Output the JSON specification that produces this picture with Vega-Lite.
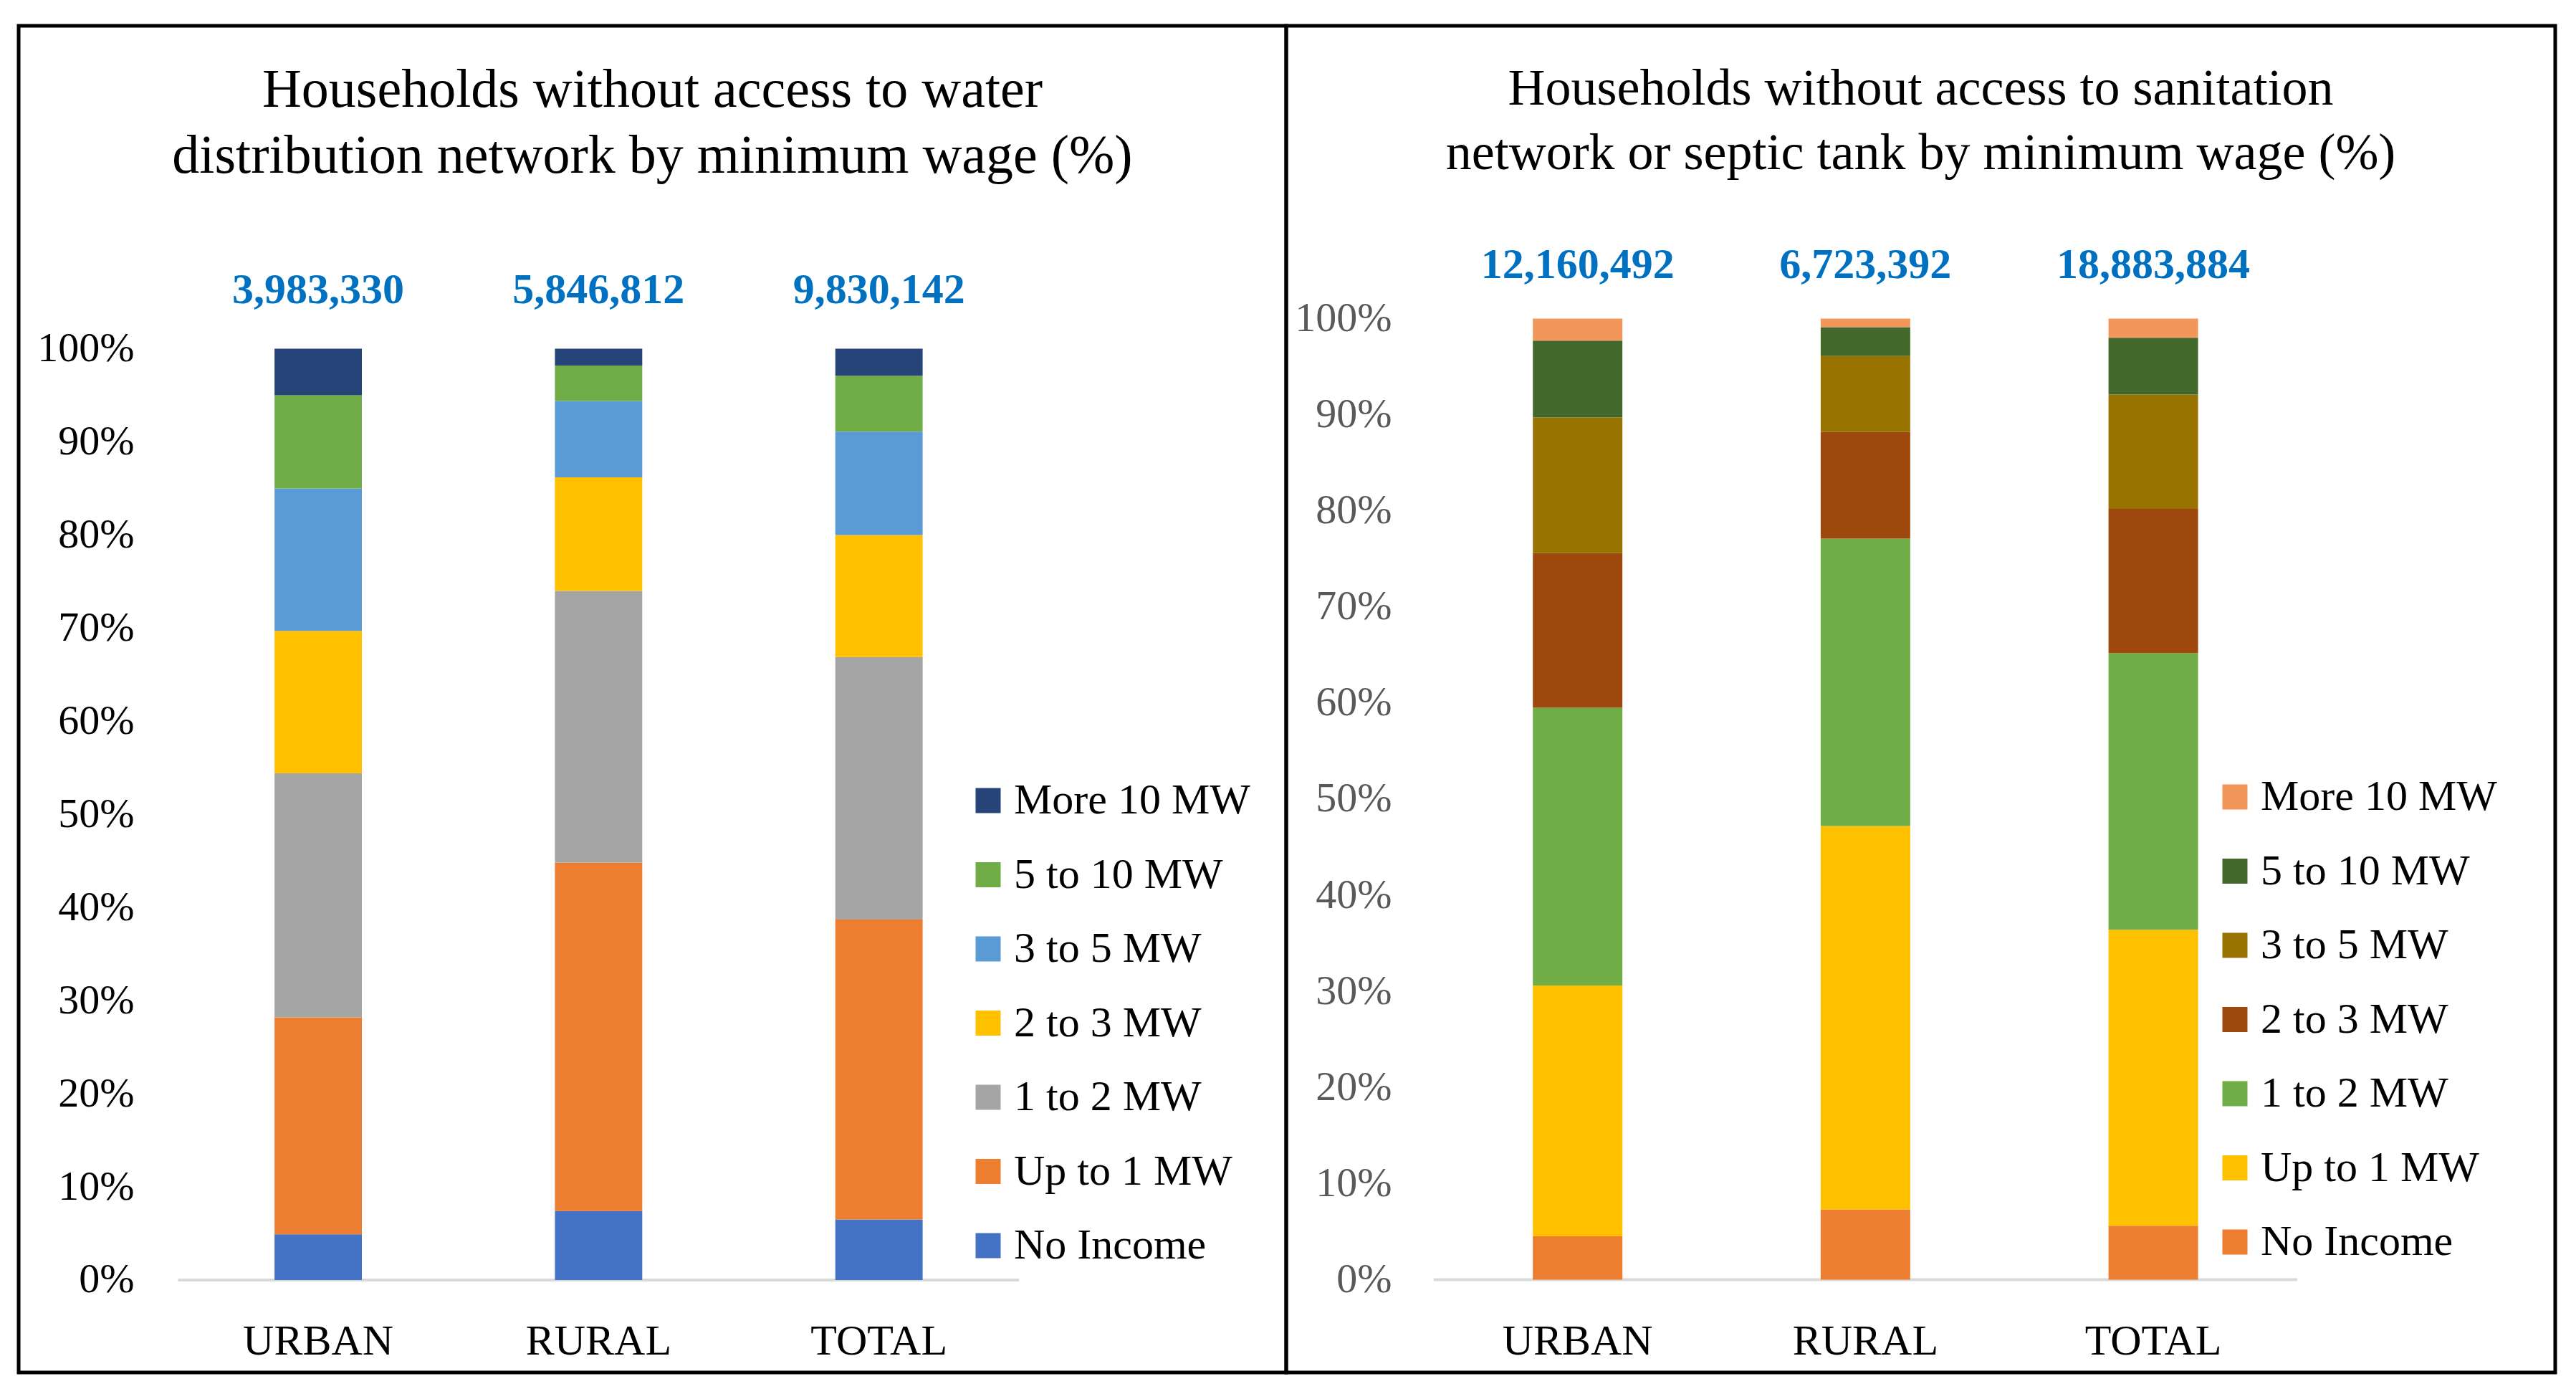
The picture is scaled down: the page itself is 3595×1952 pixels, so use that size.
{
  "$schema": "https://vega.github.io/schema/vega-lite/v6.json",
  "background": "white",
  "padding": {"left": 23, "top": 33, "right": 0, "bottom": 0},
  "autosize": {"type": "pad"},
  "spacing": 0,
  "bounds": "flush",
  "config": {
    "view": {"stroke": "#000000", "strokeWidth": 5},
    "font": "Liberation Serif"
  },
  "datasets": {
    "water": [
      {"area": "URBAN", "income": "No Income", "rank": 1, "share": 4.9},
      {"area": "URBAN", "income": "Up to 1 MW", "rank": 2, "share": 23.3},
      {"area": "URBAN", "income": "1 to 2 MW", "rank": 3, "share": 26.2},
      {"area": "URBAN", "income": "2 to 3 MW", "rank": 4, "share": 15.3},
      {"area": "URBAN", "income": "3 to 5 MW", "rank": 5, "share": 15.3},
      {"area": "URBAN", "income": "5 to 10 MW", "rank": 6, "share": 10.0},
      {"area": "URBAN", "income": "More 10 MW", "rank": 7, "share": 5.0},
      {"area": "RURAL", "income": "No Income", "rank": 1, "share": 7.4},
      {"area": "RURAL", "income": "Up to 1 MW", "rank": 2, "share": 37.4},
      {"area": "RURAL", "income": "1 to 2 MW", "rank": 3, "share": 29.2},
      {"area": "RURAL", "income": "2 to 3 MW", "rank": 4, "share": 12.2},
      {"area": "RURAL", "income": "3 to 5 MW", "rank": 5, "share": 8.2},
      {"area": "RURAL", "income": "5 to 10 MW", "rank": 6, "share": 3.8},
      {"area": "RURAL", "income": "More 10 MW", "rank": 7, "share": 1.8},
      {"area": "TOTAL", "income": "No Income", "rank": 1, "share": 6.5},
      {"area": "TOTAL", "income": "Up to 1 MW", "rank": 2, "share": 32.2},
      {"area": "TOTAL", "income": "1 to 2 MW", "rank": 3, "share": 28.2},
      {"area": "TOTAL", "income": "2 to 3 MW", "rank": 4, "share": 13.1},
      {"area": "TOTAL", "income": "3 to 5 MW", "rank": 5, "share": 11.1},
      {"area": "TOTAL", "income": "5 to 10 MW", "rank": 6, "share": 6.0},
      {"area": "TOTAL", "income": "More 10 MW", "rank": 7, "share": 2.9}
    ],
    "sanitation": [
      {"area": "URBAN", "income": "No Income", "rank": 1, "share": 4.5},
      {"area": "URBAN", "income": "Up to 1 MW", "rank": 2, "share": 26.1},
      {"area": "URBAN", "income": "1 to 2 MW", "rank": 3, "share": 28.9},
      {"area": "URBAN", "income": "2 to 3 MW", "rank": 4, "share": 16.1},
      {"area": "URBAN", "income": "3 to 5 MW", "rank": 5, "share": 14.1},
      {"area": "URBAN", "income": "5 to 10 MW", "rank": 6, "share": 8.0},
      {"area": "URBAN", "income": "More 10 MW", "rank": 7, "share": 2.3},
      {"area": "RURAL", "income": "No Income", "rank": 1, "share": 7.3},
      {"area": "RURAL", "income": "Up to 1 MW", "rank": 2, "share": 39.9},
      {"area": "RURAL", "income": "1 to 2 MW", "rank": 3, "share": 29.9},
      {"area": "RURAL", "income": "2 to 3 MW", "rank": 4, "share": 11.1},
      {"area": "RURAL", "income": "3 to 5 MW", "rank": 5, "share": 7.9},
      {"area": "RURAL", "income": "5 to 10 MW", "rank": 6, "share": 3.0},
      {"area": "RURAL", "income": "More 10 MW", "rank": 7, "share": 0.9},
      {"area": "TOTAL", "income": "No Income", "rank": 1, "share": 5.6},
      {"area": "TOTAL", "income": "Up to 1 MW", "rank": 2, "share": 30.8},
      {"area": "TOTAL", "income": "1 to 2 MW", "rank": 3, "share": 28.8},
      {"area": "TOTAL", "income": "2 to 3 MW", "rank": 4, "share": 15.0},
      {"area": "TOTAL", "income": "3 to 5 MW", "rank": 5, "share": 11.9},
      {"area": "TOTAL", "income": "5 to 10 MW", "rank": 6, "share": 5.9},
      {"area": "TOTAL", "income": "More 10 MW", "rank": 7, "share": 2.0}
    ],
    "water_totals": [
      {"area": "URBAN", "households": 3983330, "pct": 100},
      {"area": "RURAL", "households": 5846812, "pct": 100},
      {"area": "TOTAL", "households": 9830142, "pct": 100}
    ],
    "sanitation_totals": [
      {"area": "URBAN", "households": 12160492, "pct": 100},
      {"area": "RURAL", "households": 6723392, "pct": 100},
      {"area": "TOTAL", "households": 18883884, "pct": 100}
    ]
  },
  "hconcat": [
    {
      "width": 1769,
      "height": 1879,
      "title": {
        "text": ["Households without access to water", "distribution network by minimum wage (%)"],
        "font": "Liberation Serif",
        "fontSize": 76,
        "fontWeight": "normal",
        "color": "#000000",
        "anchor": "middle",
        "frame": "group",
        "lineHeight": 92,
        "offset": -221
      },
      "layer": [
        {
          "data": {"values": [{"base": 0}]},
          "mark": {"type": "rule", "color": "#D9D9D9", "strokeWidth": 4, "xOffset": -195.6, "x2Offset": 195.6},
          "encoding": {
            "x": {"datum": "URBAN", "type": "nominal"},
            "x2": {"datum": "TOTAL"},
            "y": {"field": "base", "type": "quantitative"}
          }
        },
        {
          "data": {"name": "water"},
          "mark": {"type": "bar", "width": {"band": 0.598}},
          "encoding": {
            "x": {
              "field": "area", "type": "nominal", "sort": ["URBAN", "RURAL", "TOTAL"],
              "scale": {"domain": ["URBAN", "RURAL", "TOTAL"], "paddingInner": 0.4792, "paddingOuter": 1, "align": 0.404},
              "axis": {"title": null, "orient": "bottom", "offset": -129, "domain": false, "ticks": false, "tickSize": 0, "labelPadding": 103, "labelBaseline": "alphabetic", "labelAlign": "center", "labelFontSize": 60, "labelFont": "Liberation Serif", "labelColor": "#000000", "labelAngle": 0, "labelLimit": 600, "grid": false}
            },
            "y": {
              "field": "share", "type": "quantitative", "stack": "zero",
              "scale": {"domain": [-9.93, 134.68], "nice": false, "zero": false},
              "axis": {"title": null, "values": [0, 10, 20, 30, 40, 50, 60, 70, 80, 90, 100], "labelExpr": "datum.value + '%'", "offset": -161, "domain": false, "ticks": false, "tickSize": 0, "labelPadding": 0, "grid": false, "labelFontSize": 58, "labelFont": "Liberation Serif", "labelColor": "#000000"}
            },
            "order": {"field": "rank", "type": "quantitative", "sort": "ascending"},
            "color": {
              "field": "income", "type": "nominal",
              "scale": {
                "domain": ["No Income", "Up to 1 MW", "1 to 2 MW", "2 to 3 MW", "3 to 5 MW", "5 to 10 MW", "More 10 MW"],
                "range": ["#4472C4", "#ED7D31", "#A5A5A5", "#FFC000", "#5B9BD5", "#70AD47", "#264478"]
              },
              "legend": {
                "orient": "none", "legendX": 1323, "legendY": 1051, "title": null,
                "values": ["More 10 MW", "5 to 10 MW", "3 to 5 MW", "2 to 3 MW", "1 to 2 MW", "Up to 1 MW", "No Income"],
                "symbolType": "square", "symbolSize": 1225, "symbolStrokeWidth": 0,
                "labelFontSize": 60, "labelFont": "Liberation Serif", "labelColor": "#000000",
                "labelOffset": 6, "rowPadding": 43.5, "padding": 0, "labelLimit": 0
              }
            }
          }
        },
        {
          "data": {"name": "water_totals"},
          "mark": {"type": "text", "dy": -64, "baseline": "alphabetic", "fontSize": 60, "fontWeight": "bold", "color": "#0070C0", "font": "Liberation Serif"},
          "encoding": {
            "x": {"field": "area", "type": "nominal", "sort": ["URBAN", "RURAL", "TOTAL"]},
            "y": {"field": "pct", "type": "quantitative"},
            "text": {"field": "households", "type": "quantitative", "format": ",.0f"}
          }
        }
      ]
    },
    {
      "width": 1771,
      "height": 1879,
      "title": {
        "text": ["Households without access to sanitation", "network or septic tank by minimum wage (%)"],
        "font": "Liberation Serif",
        "fontSize": 72,
        "fontWeight": "normal",
        "color": "#000000",
        "anchor": "middle",
        "frame": "group",
        "lineHeight": 90,
        "offset": -215
      },
      "layer": [
        {
          "data": {"values": [{"base": 0}]},
          "mark": {"type": "rule", "color": "#D9D9D9", "strokeWidth": 4, "xOffset": -200.8, "x2Offset": 200.8},
          "encoding": {
            "x": {"datum": "URBAN", "type": "nominal"},
            "x2": {"datum": "TOTAL"},
            "y": {"field": "base", "type": "quantitative"}
          }
        },
        {
          "data": {"name": "sanitation"},
          "mark": {"type": "bar", "width": {"band": 0.761}},
          "encoding": {
            "x": {
              "field": "area", "type": "nominal", "sort": ["URBAN", "RURAL", "TOTAL"],
              "scale": {"domain": ["URBAN", "RURAL", "TOTAL"], "paddingInner": 0.5912, "paddingOuter": 1, "align": 0.404},
              "axis": {"title": null, "orient": "bottom", "offset": -129, "domain": false, "ticks": false, "tickSize": 0, "labelPadding": 103, "labelBaseline": "alphabetic", "labelAlign": "center", "labelFontSize": 60, "labelFont": "Liberation Serif", "labelColor": "#000000", "labelAngle": 0, "labelLimit": 600, "grid": false}
            },
            "y": {
              "field": "share", "type": "quantitative", "stack": "zero",
              "scale": {"domain": [-9.66, 130.46], "nice": false, "zero": false},
              "axis": {"title": null, "values": [0, 10, 20, 30, 40, 50, 60, 70, 80, 90, 100], "labelExpr": "datum.value + '%'", "offset": -147, "domain": false, "ticks": false, "tickSize": 0, "labelPadding": 0, "grid": false, "labelFontSize": 58, "labelFont": "Liberation Serif", "labelColor": "#595959"}
            },
            "order": {"field": "rank", "type": "quantitative", "sort": "ascending"},
            "color": {
              "field": "income", "type": "nominal",
              "scale": {
                "domain": ["No Income", "Up to 1 MW", "1 to 2 MW", "2 to 3 MW", "3 to 5 MW", "5 to 10 MW", "More 10 MW"],
                "range": ["#ED7D31", "#FFC000", "#70AD47", "#9E480E", "#997300", "#43682B", "#F1975A"]
              },
              "legend": {
                "orient": "none", "legendX": 1294, "legendY": 1046, "title": null,
                "values": ["More 10 MW", "5 to 10 MW", "3 to 5 MW", "2 to 3 MW", "1 to 2 MW", "Up to 1 MW", "No Income"],
                "symbolType": "square", "symbolSize": 1225, "symbolStrokeWidth": 0,
                "labelFontSize": 60, "labelFont": "Liberation Serif", "labelColor": "#000000",
                "labelOffset": 6, "rowPadding": 43.5, "padding": 0, "labelLimit": 0
              }
            }
          }
        },
        {
          "data": {"name": "sanitation_totals"},
          "mark": {"type": "text", "dy": -56, "baseline": "alphabetic", "fontSize": 60, "fontWeight": "bold", "color": "#0070C0", "font": "Liberation Serif"},
          "encoding": {
            "x": {"field": "area", "type": "nominal", "sort": ["URBAN", "RURAL", "TOTAL"]},
            "y": {"field": "pct", "type": "quantitative"},
            "text": {"field": "households", "type": "quantitative", "format": ",.0f"}
          }
        }
      ]
    }
  ],
  "resolve": {
    "scale": {"x": "independent", "y": "independent", "color": "independent"},
    "legend": {"color": "independent"},
    "axis": {"x": "independent", "y": "independent"}
  }
}
